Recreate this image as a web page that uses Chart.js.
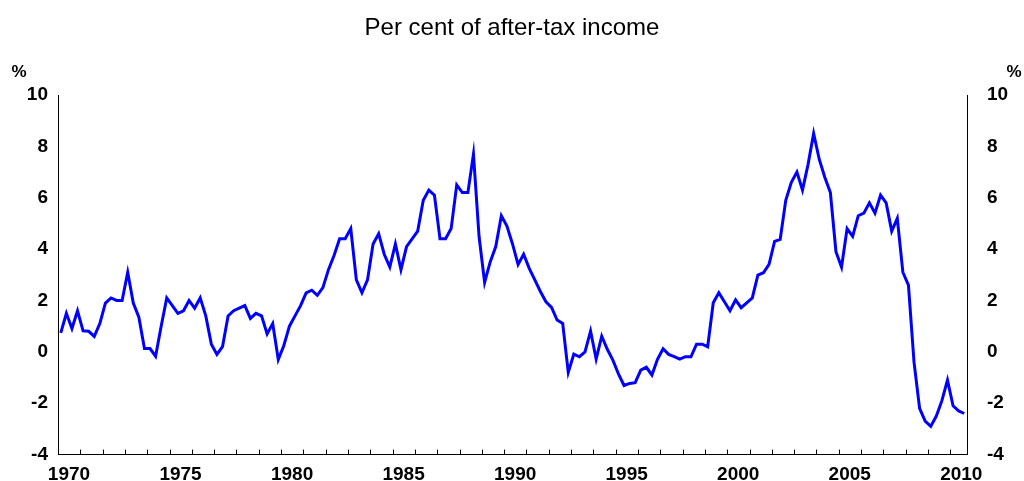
<!DOCTYPE html>
<html>
<head>
<meta charset="utf-8">
<script src="https://cdn.jsdelivr.net/npm/chart.js@4/dist/chart.umd.min.js"></script>
<style>
  html, body { margin: 0; padding: 0; background: #fff; overflow: hidden; }
  #wrap { width: 1024px; height: 481px; overflow: hidden; }
</style>
</head>
<body>
<div id="wrap"><canvas id="grafico" width="1024" height="486"></canvas></div>
<script>
// quarterly, 1970 Q1 to 2010 Q3
var firstYear = 1970;
var lastYear = 2010;
var values = [
    0.74, 1.5, 0.91, 1.6,
    0.82, 0.8, 0.6, 1.1,
    1.9, 2.1, 2.0, 2.0,
    3.1, 1.9, 1.35, 0.13,
    0.13, -0.17, 1.0, 2.1,
    1.8, 1.5, 1.6, 2.0,
    1.7, 2.1, 1.4, 0.3,
    -0.1, 0.2, 1.4, 1.6,
    1.7, 1.8, 1.3, 1.5,
    1.4, 0.7, 1.1, -0.3,
    0.25, 1.0, 1.4, 1.8,
    2.3, 2.4, 2.2, 2.5,
    3.2, 3.75, 4.4, 4.4,
    4.8, 2.8, 2.3, 2.8,
    4.2, 4.6, 3.8, 3.3,
    4.2, 3.2, 4.1, 4.4,
    4.7, 5.9, 6.3, 6.1,
    4.4, 4.4, 4.8, 6.5,
    6.2, 6.2, 7.7, 4.5,
    2.7, 3.5, 4.1, 5.3,
    4.9, 4.2, 3.4, 3.8,
    3.25, 2.8, 2.35, 1.95,
    1.73, 1.24, 1.11, -0.8,
    -0.09, -0.19, 0.0, 0.81,
    -0.28, 0.61, 0.1, -0.32,
    -0.86, -1.31, -1.23, -1.2,
    -0.71, -0.6, -0.9, -0.29,
    0.12, -0.1, -0.19, -0.28,
    -0.19, -0.19, 0.3, 0.3,
    0.2, 1.91, 2.3, 1.95,
    1.6, 2.02, 1.72, 1.91,
    2.1, 2.99, 3.08, 3.41,
    4.3, 4.38, 5.9, 6.6,
    7.0, 6.3, 7.3, 8.5,
    7.5, 6.8, 6.2, 3.9,
    3.3, 4.8, 4.5, 5.3,
    5.4, 5.8, 5.4, 6.1,
    5.8, 4.7, 5.2, 3.1,
    2.6, -0.4, -2.2, -2.7,
    -2.9, -2.5, -1.9, -1.1,
    -2.1, -2.3, -2.4
];
var yTicks = [-4, -2, 0, 2, 4, 6, 8, 10];
var yearLabels = [1970, 1975, 1980, 1985, 1990, 1995, 2000, 2005, 2010];

// quarter labels and their mid-quarter position on the year axis
var quarters = [];
var pontos = [];
for (var i = 0; i < values.length; i++) {
    var yr = firstYear + Math.floor(i / 4);
    var q = (i % 4) + 1;
    quarters.push(yr + 'Q' + q);
    pontos.push({ x: yr + (q - 0.5) / 4, y: values[i] });
}

var fonte = "'Liberation Sans', Arial, sans-serif";

// small inward year ticks on the bottom axis, and the % unit labels
var marcasAno = {
    id: 'marcasAno',
    afterDraw: function(chart) {
        var ctx = chart.ctx;
        var x = chart.scales.x;
        var area = chart.chartArea;
        ctx.save();
        ctx.strokeStyle = '#000';
        ctx.lineWidth = 1;
        for (var a = firstYear + 1; a <= lastYear; a++) {
            var px = Math.round(x.getPixelForValue(a)) + 0.5;
            ctx.beginPath();
            ctx.moveTo(px, area.bottom);
            ctx.lineTo(px, area.bottom - 5);
            ctx.stroke();
        }
        ctx.fillStyle = '#000';
        ctx.font = 'bold 17px ' + fonte;
        ctx.textAlign = 'center';
        ctx.textBaseline = 'middle';
        ctx.fillText('%', 19, 72);
        ctx.fillText('%', 1014, 72);
        ctx.restore();
    }
};

var configPoupanca = {
    type: 'line',
    data: {
        labels: quarters,
        datasets: [{
            data: pontos,
            borderColor: 'rgb(0, 0, 255)',
            borderWidth: 3,
            pointRadius: 0,
            tension: 0,
            fill: false
        }]
    },
    options: {
        responsive: false,
        animation: false,
        layout: { padding: { top: 0, left: 0, right: 0, bottom: -10.5 } },
        plugins: {
            legend: { display: false },
            tooltip: { enabled: false },
            title: {
                display: true,
                text: 'Per cent of after-tax income',
                color: '#000',
                font: { family: fonte, size: 24, weight: 'normal' },
                padding: { top: 14, bottom: 52.2 }
            }
        },
        scales: {
            x: {
                type: 'linear',
                min: 1970,
                max: 2010.75,
                grid: { display: false, drawTicks: false },
                border: { display: true, color: '#000', width: 1 },
                afterBuildTicks: function(s) {
                    var t = [];
                    for (var a = firstYear; a <= lastYear; a++) t.push({ value: a });
                    s.ticks = t;
                },
                ticks: {
                    autoSkip: false,
                    maxRotation: 0,
                    labelOffset: 11,
                    padding: 9,
                    color: '#000',
                    font: { family: fonte, size: 19, weight: 'bold' },
                    callback: function(v) {
                        return yearLabels.indexOf(v) >= 0 ? String(v) : '';
                    }
                }
            },
            y: {
                position: 'left',
                min: -4,
                max: 10,
                grid: { display: false, drawTicks: false },
                border: { display: true, color: '#000', width: 1 },
                afterBuildTicks: function(s) { s.ticks = yTicks.map(function(v) { return { value: v }; }); },
                ticks: {
                    padding: 10,
                    color: '#000',
                    font: { family: fonte, size: 19, weight: 'bold' }
                },
                afterFit: function(s) { s.width = 58; }
            },
            y2: {
                position: 'right',
                display: true,
                min: -4,
                max: 10,
                grid: { display: false, drawTicks: false },
                border: { display: true, color: '#000', width: 1 },
                afterBuildTicks: function(s) { s.ticks = yTicks.map(function(v) { return { value: v }; }); },
                ticks: {
                    padding: 20,
                    color: '#000',
                    font: { family: fonte, size: 19, weight: 'bold' }
                },
                afterFit: function(s) { s.width = 57; }
            }
        }
    },
    plugins: [marcasAno]
};

window.onload = function() {
    var ctx = document.getElementById('grafico').getContext('2d');
    window.myChart = new Chart(ctx, configPoupanca);
};
</script>
</body>
</html>
